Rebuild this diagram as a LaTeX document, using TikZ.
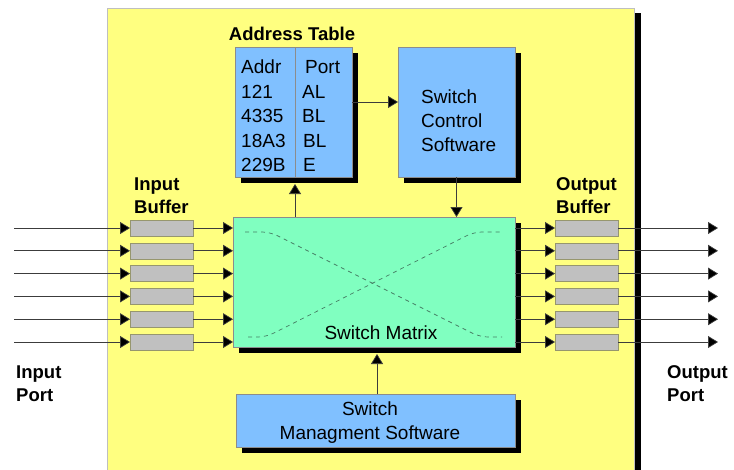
\documentclass[tikz,border=0pt]{standalone}
\usepackage{fontspec}
\setmainfont{Liberation Sans}
\usetikzlibrary{arrows.meta,shadows}
\definecolor{bgyel}{RGB}{255,255,128}
\definecolor{boxblue}{RGB}{128,192,255}
\definecolor{matgreen}{RGB}{128,255,192}
\definecolor{bufgray}{RGB}{192,192,192}
\definecolor{bufedge}{RGB}{150,150,110}
\definecolor{dashgreen}{RGB}{70,125,100}
\definecolor{lineclr}{RGB}{60,60,60}
\begin{document}
\begin{tikzpicture}[x=1pt,y=-1pt,
  box/.style={draw=black!45, line width=0.6pt, inner sep=0pt, outer sep=0pt, anchor=north west,
    drop shadow={shadow xshift=6pt, shadow yshift=-6pt, fill=black, opacity=1}},
  bufbox/.style={draw=bufedge, line width=0.6pt, fill=bufgray, minimum width=63pt, minimum height=16pt, inner sep=0pt, outer sep=0pt},
  txt/.style={inner sep=0pt, font=\fontsize{19}{24}\selectfont},
  btxt/.style={inner sep=0pt, font=\fontsize{18.5}{23}\selectfont\bfseries},
  arr/.style={draw=lineclr, line width=0.7pt, -{Triangle[length=10pt,width=12pt,fill=black]}},
  dpath/.style={draw=dashgreen, line width=0.7pt, dash pattern=on 4pt off 4pt, rounded corners=8pt}]
\useasboundingbox (0,0) rectangle (734,469);
\fill[white] (0,0) rectangle (734,469);

% background panel
\node[box, draw=black!25, fill=bgyel, minimum width=527pt, minimum height=470pt,
  drop shadow={shadow xshift=7pt, shadow yshift=-5pt, fill=black, opacity=1}] (bg) at (107,8) {};

% boxes
\node[box, fill=boxblue, minimum width=117pt, minimum height=130pt] (at) at (235,47) {};
\draw[line width=0.6pt, draw=black!45] (295,47) -- (295,177);
\node[box, fill=boxblue, minimum width=117pt, minimum height=130pt] (sc) at (398,47) {};
\node[box, fill=matgreen, minimum width=282pt, minimum height=130pt] (sm) at (233,217) {};
\node[box, fill=boxblue, minimum width=279pt, minimum height=53pt] (mg) at (236,394) {};

% dashed crossing paths in the matrix
\draw[dpath] (245,232) -- (270,232) -- (480,337) -- (502,337);
\draw[dpath] (248,337) -- (266,337) -- (474,232) -- (502,232);

% texts
\node[btxt] (attitle) at (292,34) {Address Table};
\foreach \r/\p/\px [count=\k from 0] in {Addr/Port/305, 121/AL/302, 4335/BL/302, 18A3/BL/303, 229B/E/303} {
  \pgfmathsetmacro\yy{67+24.5*\k}
  \node[txt, anchor=west] (addr\k) at (241,\yy) {\r};
  \node[txt, anchor=west] (port\k) at (\px,\yy) {\p};
}
\node[txt, anchor=west, align=left] (sctext) at (421,121) {Switch\\Control\\Software};
\node[txt] (smtext) at (381,333) {Switch Matrix};
\node[txt, align=center] (mgtext) at (370,423) {Switch\\Managment Software};
\node[btxt, anchor=west, align=left] (iblabel) at (134,196) {Input\\Buffer};
\node[btxt, anchor=west, align=left] (oblabel) at (556,196) {Output\\Buffer};
\node[btxt, anchor=west, align=left] (iplabel) at (16,384) {Input\\Port};
\node[btxt, anchor=west, align=left] (oplabel) at (667,384) {Output\\Port};

% buffers and port lines
\foreach \i in {0,...,5} {
  \pgfmathsetmacro\yy{228+22.8*\i}
  \node[bufbox] (ib\i) at (161.5,\yy) {};
  \node[bufbox] (ob\i) at (586.5,\yy) {};
  \coordinate (in\i) at (14,\yy);
  \coordinate (out\i) at (718,\yy);
}
\foreach \i in {0,...,5} {
  \draw[arr] (in\i) -- (ib\i.west);
  \draw[arr] (ib\i.east) -- (sm.west |- ib\i.east);
  \draw[arr] (sm.east |- ob\i.west) -- (ob\i.west);
  \draw[arr] (ob\i.east) -- (out\i);
}

% control arrows
\coordinate (attip) at (295,184);
\coordinate (mgtip) at (377,354);
\draw[arr] ([yshift=10pt]at.east) -- ([yshift=10pt]sc.west);
\draw[arr] (sc.south) -- (sc.south |- sm.north);
\draw[arr] (sm.north -| attip) -- (attip);
\draw[arr] (mg.north -| mgtip) -- (mgtip);
\end{tikzpicture}
\end{document}
